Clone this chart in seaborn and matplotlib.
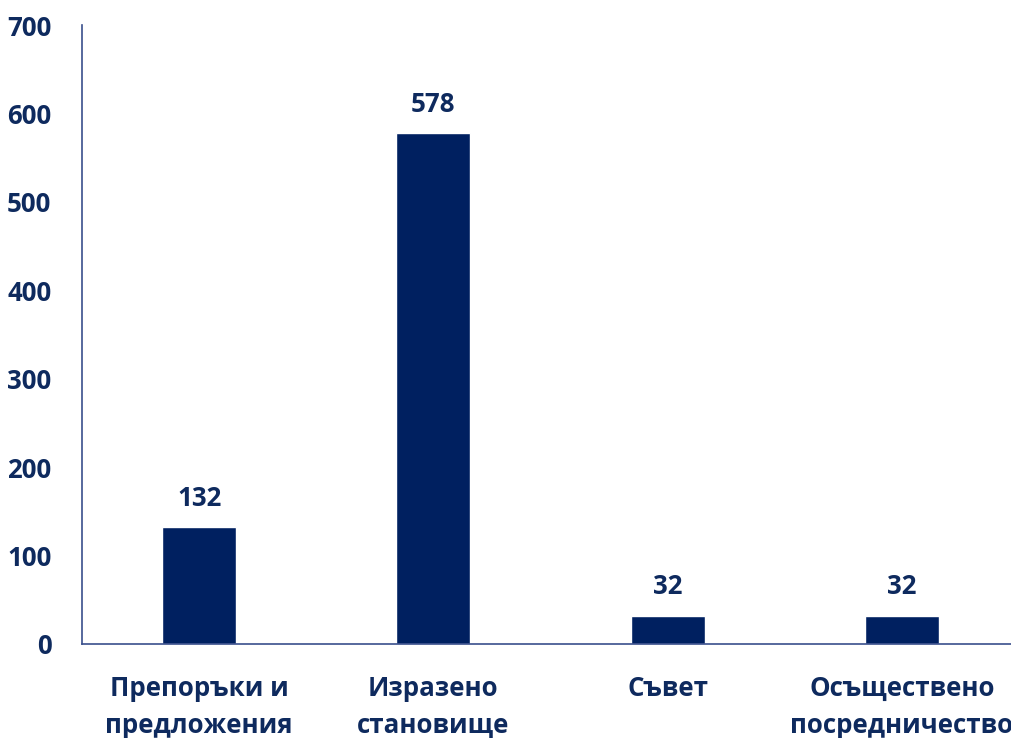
import pandas as pd
import matplotlib.pyplot as plt
import seaborn as sns

# данни
categories = ['Препоръки и\nпредложения', 'Изразено\nстановище', 'Съвет', 'Осъществено\nпосредничество']
values = [132, 578, 32, 32]

df = pd.DataFrame({'cat': categories, 'val': values})

sns.set_style('white')
plt.rcParams['font.family'] = ['Open Sans', 'DejaVu Sans']
plt.rcParams['font.weight'] = 'bold'

navy = '#002060'
txt = '#0E2A5E'

fig = plt.figure(figsize=(10.12, 7.38), dpi=100)
ax = fig.add_axes([82/1012, 94/738, 930/1012, 619/738])

sns.barplot(data=df, x='cat', y='val', color=navy, width=0.316, ax=ax, saturation=1)

ax.set_ylim(0, 700)
ax.set_xlim(-0.5, 3.47)
ax.set_yticks(range(0, 701, 100))
ax.set_xlabel('')
ax.set_ylabel('')

for s in ['top', 'right']:
    ax.spines[s].set_visible(False)
for s in ['left', 'bottom']:
    ax.spines[s].set_color('#3A4F8C')
    ax.spines[s].set_linewidth(1.2)

ax.tick_params(axis='y', length=0, pad=22, labelsize=18.6, labelcolor=txt)
ax.tick_params(axis='x', length=0, pad=22, labelsize=18.6, labelcolor=txt)
for lab in ax.get_xticklabels() + ax.get_yticklabels():
    lab.set_fontweight('bold')
for lab in ax.get_xticklabels():
    lab.set_linespacing(1.5)

ax.bar_label(ax.containers[0], padding=11, fontsize=18.6, fontweight='bold', color=txt)

fig.savefig('out.png', dpi=100)
